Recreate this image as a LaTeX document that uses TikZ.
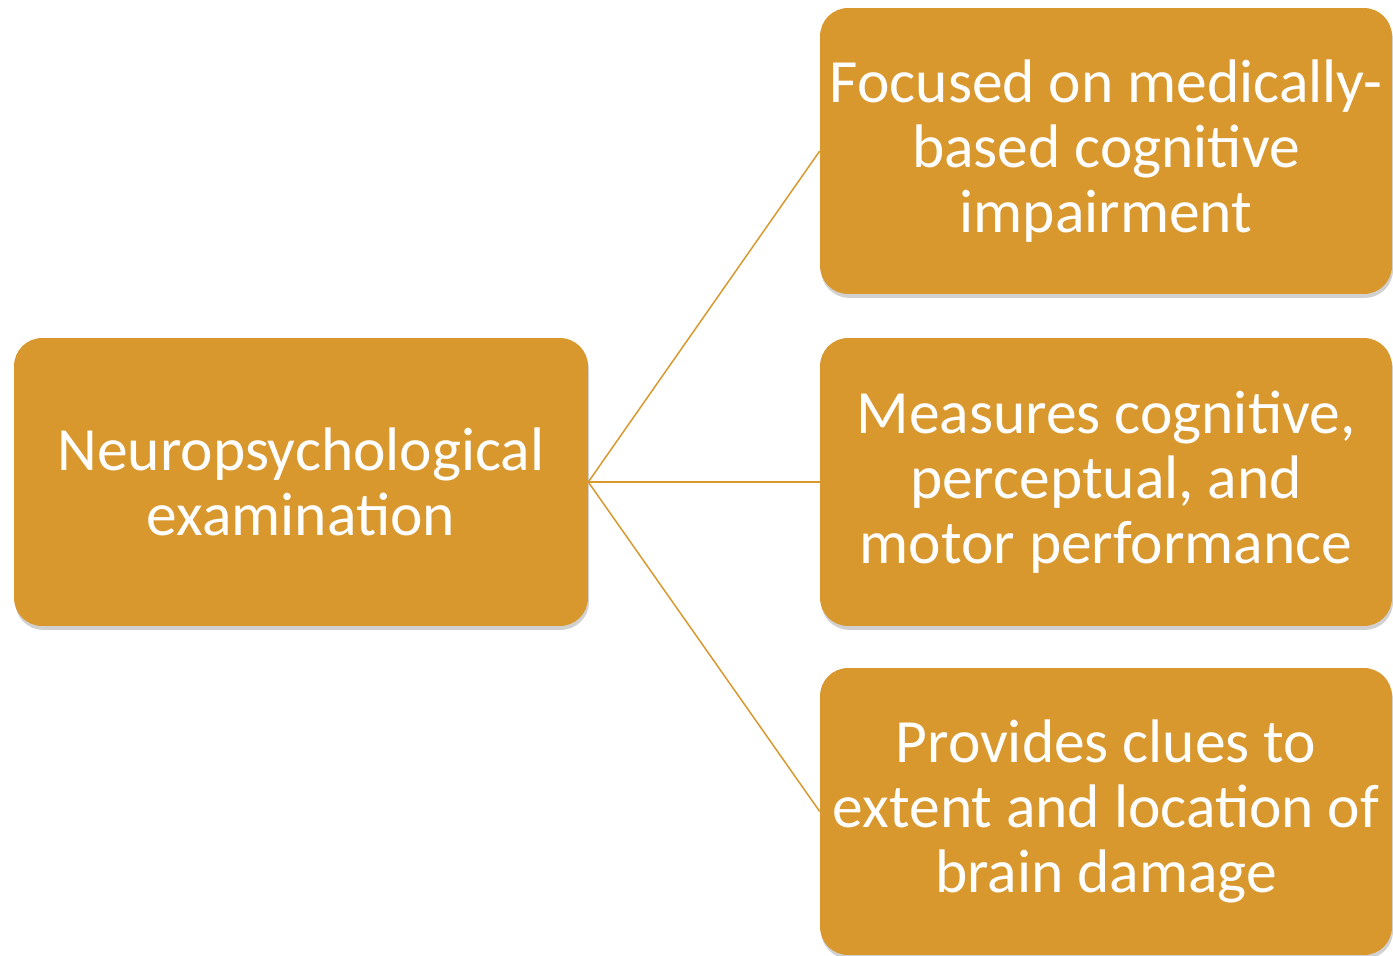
\documentclass[tikz,border=0pt]{standalone}
\usepackage{fontspec}
\setmainfont{Carlito}
\usepackage{xcolor}
\usepackage{tikz}
\usetikzlibrary{shapes,positioning,calc,shadows}
\definecolor{boxorange}{HTML}{D9982E}

\begin{document}
\begin{tikzpicture}[x=0.02cm, y=-0.02cm,
    box/.style={rectangle, rounded corners=0.56cm, fill=boxorange, text=white,
        align=center, inner sep=0pt,
        font=\fontsize{35}{37}\selectfont,
        drop shadow={shadow xshift=0.6pt, shadow yshift=-2.2pt, opacity=0.3, fill=black!60}},
    link/.style={draw=boxorange, line width=0.85pt}]
    \useasboundingbox (0,0) rectangle (1393,956);

    % Main box
    \node[box, minimum width=11.48cm, minimum height=5.76cm] (exam) at (301,482)
        {Neuropsychological\\examination};

    % Branches
    \node[box, minimum width=11.44cm, minimum height=5.72cm] (focus) at (1106,151)
        {Focused on medically-\\based cognitive\\impairment};
    \node[box, minimum width=11.44cm, minimum height=5.76cm] (measure) at (1106,482)
        {Measures cognitive,\\perceptual, and\\motor performance};
    \node[box, minimum width=11.44cm, minimum height=5.74cm] (clues) at (1106,811.5)
        {Provides clues to\\extent and location of\\brain damage};

    % Connectors
    \draw[link] (exam.east) -- (focus.west);
    \draw[link] (exam.east) -- (measure.west);
    \draw[link] (exam.east) -- (clues.west);
\end{tikzpicture}
\end{document}
